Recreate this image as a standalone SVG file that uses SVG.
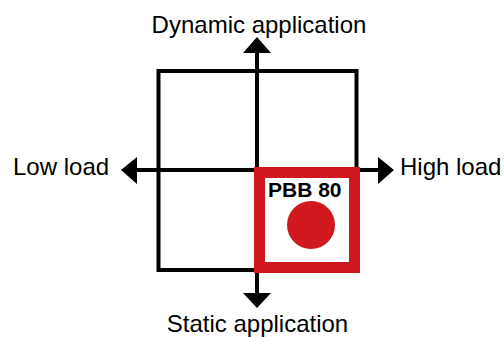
<svg xmlns="http://www.w3.org/2000/svg" width="504" height="337" viewBox="0 0 504 337">
<style>
.ln{stroke:#000;stroke-width:4;fill:none}
.lbl{font-family:"Liberation Sans",Arial,sans-serif;font-size:24px;fill:#000}
.ah{fill:#000}
</style>
<rect width="504" height="337" fill="#fff"/>
<g id="connectors">
<rect class="ln" x="158.5" y="71" width="198" height="199"/>
<line class="ln" x1="257" y1="52" x2="257" y2="295"/>
<line class="ln" x1="136" y1="170" x2="379" y2="170"/>
<polygon class="ah" points="257,37 271,53 243,53"/>
<polygon class="ah" points="257,308 271,293 243,293"/>
<polygon class="ah" points="121,170 137,157 137,184"/>
<polygon class="ah" points="394,170 378,157 378,184"/>
</g>
<g id="pbb80">
<rect x="259.5" y="172.5" width="95" height="95" fill="#fff" stroke="#d0191e" stroke-width="11"/>
<circle cx="311" cy="225" r="24" fill="#d0191e"/>
<text x="268" y="196.5" style="font-family:'Liberation Sans',Arial,sans-serif;font-size:21px;font-weight:bold">PBB 80</text>
</g>
<g id="labels">
<text class="lbl" x="259" y="32.5" text-anchor="middle">Dynamic application</text>
<text class="lbl" x="257.5" y="332" text-anchor="middle">Static application</text>
<text class="lbl" x="13" y="175">Low load</text>
<text class="lbl" x="400" y="175">High load</text>
</g>
</svg>
